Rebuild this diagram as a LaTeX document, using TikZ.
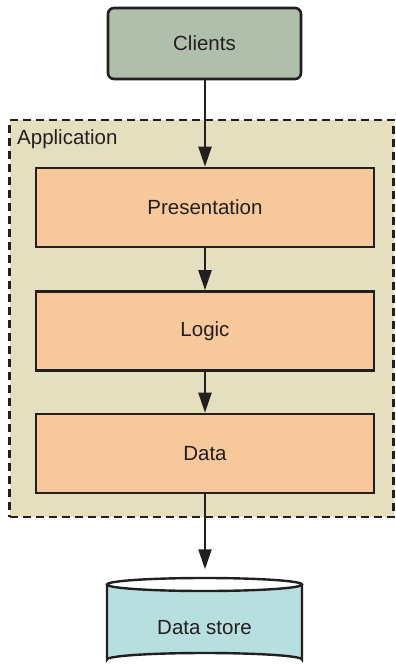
\documentclass[tikz,border=0pt]{standalone}
\usepackage{fontspec}
\setmainfont{Liberation Sans}
\usetikzlibrary{arrows.meta}
\definecolor{clientfill}{HTML}{B0BFAB}
\definecolor{appfill}{HTML}{E3DFBF}
\definecolor{layerfill}{HTML}{F6C89C}
\definecolor{storefill}{HTML}{B8DFE0}
\definecolor{ink}{HTML}{231F20}
\tikzset{
  x=1pt, y=-1pt,
  txt/.style={font=\fontsize{20.5}{24}\selectfont, text=ink},
  layer/.style={txt, draw=ink, line width=2.6pt, fill=layerfill, minimum width=338pt, minimum height=79pt, inner sep=0pt},
  flow/.style={draw=ink, line width=2.2pt, -{Triangle[length=20pt,width=13pt]}},
}
\begin{document}
\begin{tikzpicture}
\useasboundingbox (0,0) rectangle (396,669);
% application container
\node[draw=ink, dashed, dash pattern=on 8pt off 5pt, line width=2.2pt, fill=appfill, minimum width=384pt, minimum height=397pt, inner sep=0pt] (app) at (201.5,318.5) {};
\node[txt, anchor=base west, inner sep=0pt] (applabel) at (17,144) {Application};
% clients
\node[txt, draw=ink, line width=2.6pt, fill=clientfill, rounded corners=6pt, minimum width=193pt, minimum height=71pt, inner sep=0pt] (clients) at (204.5,43.5) {Clients};
% layers
\node[layer] (pres) at (205,207.5) {Presentation};
\node[layer] (logic) at (205,331) {Logic};
\node[layer] (data) at (205,453.5) {Data};
% data store cylinder
\fill[storefill] (107,584.5) -- (107,659.5) arc[start angle=180,end angle=360,x radius=97.5,y radius=6.5] -- (302,584.5) arc[start angle=0,end angle=180,x radius=97.5,y radius=6.5] -- cycle;
\draw[ink, line width=2.4pt] (107,584.5) -- (107,659.5) arc[start angle=180,end angle=360,x radius=97.5,y radius=6.5] -- (302,584.5);
\draw[ink, line width=2.4pt] (204.5,584.5) ellipse[x radius=97.5, y radius=6.5];
\node[txt, minimum width=195pt, minimum height=89pt, inner sep=0pt] (store) at (204.5,628) {Data store};
% connectors
\draw[flow] (clients.south -| pres.north) -- (pres.north);
\draw[flow] (pres) -- (logic);
\draw[flow] (logic) -- (data);
\draw[flow, shorten >=14pt] (data.south) -- (data.south |- store.north);
\end{tikzpicture}
\end{document}
